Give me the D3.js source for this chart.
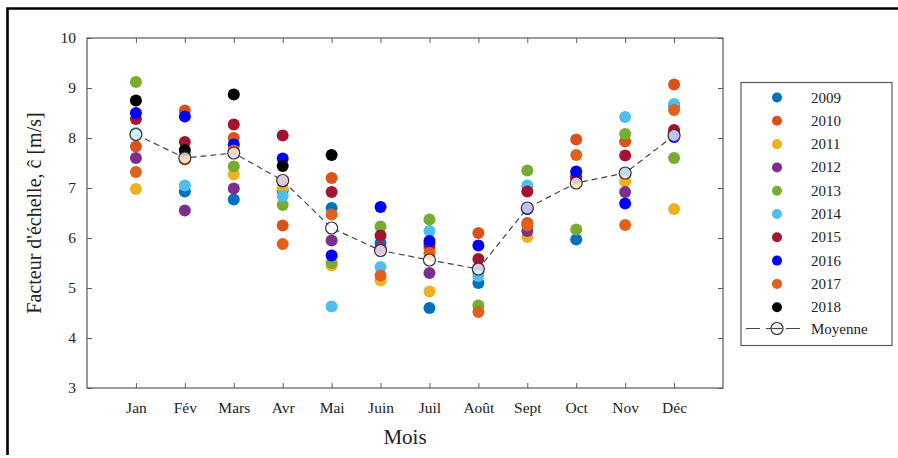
<!DOCTYPE html>
<html><head><meta charset="utf-8">
<script src="https://cdn.jsdelivr.net/npm/d3@7"></script>
<style>
body{margin:0;background:#fff;}
svg text{font-family:"Liberation Serif","DejaVu Serif",serif !important;fill:#222;}
</style></head>
<body>
<svg id="chart" width="898" height="458"></svg>
<script>
const months = ["Jan","Fév","Mars","Avr","Mai","Juin","Juil","Août","Sept","Oct","Nov","Déc"];
const years = ["2009","2010","2011","2012","2013","2014","2015","2016","2017","2018"];
const colors = ["#0072BD","#D95319","#EDB120","#7E2F8E","#77AC30","#4DBEEE","#A2142F","#0000FF","#E0601C","#000000"];
const v2009 = [8.07,6.93,6.77,6.95,6.60,5.90,4.60,5.10,6.60,5.97,7.30,8.65];
const v2010 = [7.83,8.55,8.00,6.25,7.20,5.75,5.80,6.10,6.30,7.97,7.93,9.07];
const v2011 = [6.98,7.65,7.27,7.00,5.45,5.15,4.93,5.30,6.02,7.10,7.13,6.58];
const v2012 = [7.60,6.55,6.99,7.13,5.95,5.80,5.30,5.40,6.14,7.23,6.92,8.10];
const v2013 = [9.12,7.70,7.43,6.66,5.50,6.23,6.37,4.65,7.35,6.17,8.08,7.60];
const v2014 = [8.10,7.05,7.70,6.84,4.63,5.42,6.14,5.24,7.05,7.30,8.42,8.68];
const v2015 = [8.38,7.92,8.27,8.05,6.92,6.05,5.87,5.58,6.93,7.20,7.65,8.16];
const v2016 = [8.50,8.43,7.87,7.59,5.65,6.62,5.94,5.85,6.58,7.33,6.69,8.02];
const v2017 = [7.32,7.57,7.75,5.88,6.47,5.25,5.70,4.52,6.25,7.66,6.26,8.56];
const v2018 = [8.75,7.76,8.87,7.44,7.66,null,null,null,null,null,null,null];
const meanValues = [8.07,7.60,7.70,7.15,6.20,5.75,5.56,5.38,6.60,7.10,7.30,8.05];
const yTicks = [3,4,5,6,7,8,9,10];
const series = [v2009,v2010,v2011,v2012,v2013,v2014,v2015,v2016,v2017,v2018];

const FONT = "'Liberation Serif','DejaVu Serif',serif";
const svg = d3.select("#chart");
const L=87, R=723, T=38, B=388;
const x = d3.scaleLinear().domain([0,13]).range([L,R]);
const y = d3.scaleLinear().domain([3,10]).range([B,T]);
const axisColor = "#5a5a5a";

// outer frame (top & left visible)
svg.append("path").attr("d","M7.5,455 V8.5 H898").attr("fill","none").attr("stroke","#000").attr("stroke-width",2.6);

// axes
const gx = svg.append("g").attr("transform",`translate(0,${B})`)
  .call(d3.axisBottom(x).tickValues(d3.range(1,13)).tickFormat(d=>months[d-1]).tickSizeInner(-5).tickSizeOuter(0).tickPadding(14));
const gxt = svg.append("g").attr("transform",`translate(0,${T})`)
  .call(d3.axisTop(x).tickValues(d3.range(1,13)).tickFormat("").tickSizeInner(-5).tickSizeOuter(0));
const gy = svg.append("g").attr("transform",`translate(${L},0)`)
  .call(d3.axisLeft(y).tickValues(yTicks).tickFormat(d3.format("d")).tickSizeInner(-5).tickSizeOuter(0).tickPadding(11));
const gyr = svg.append("g").attr("transform",`translate(${R},0)`)
  .call(d3.axisRight(y).tickValues(yTicks).tickFormat("").tickSizeInner(-5).tickSizeOuter(0));
[gx,gxt,gy,gyr].forEach(g=>{
  g.attr("font-family",FONT);
  g.selectAll("path.domain").remove();
  g.selectAll("line").attr("stroke",axisColor);
  g.selectAll("text").attr("font-size",15.5).attr("fill","#222").style("font-family",FONT);
});
svg.append("rect").attr("x",L).attr("y",T).attr("width",R-L).attr("height",B-T)
  .attr("fill","none").attr("stroke",axisColor).attr("stroke-width",1.2);

// labels
svg.append("text").attr("x",(L+R)/2).attr("y",444).attr("text-anchor","middle").attr("font-size",21).style("font-family",FONT).text("Mois");
svg.append("text").attr("transform",`translate(41,${(T+B)/2}) rotate(-90)`).attr("text-anchor","middle").attr("font-size",20).style("font-family",FONT).text("Facteur d'échelle, ĉ [m/s]");

// points
series.forEach((vals,i)=>{
  svg.append("g").selectAll("circle").data(vals.map((v,m)=>({v,m})).filter(d=>d.v!==null))
    .join("circle").attr("cx",d=>x(d.m+1)).attr("cy",d=>y(d.v)).attr("r",6).attr("fill",colors[i]);
});

// mean line
const line = d3.line().x((d,i)=>x(i+1)).y(d=>y(d));
svg.append("path").datum(meanValues).attr("d",line).attr("fill","none").attr("stroke","#444")
  .attr("stroke-width",1.2).attr("stroke-dasharray","6,4");
svg.append("g").selectAll("circle").data(meanValues).join("circle")
  .attr("cx",(d,i)=>x(i+1)).attr("cy",d=>y(d)).attr("r",6)
  .attr("fill","rgba(255,255,255,0.75)").attr("stroke","#333").attr("stroke-width",1.2);

// legend
const lg = svg.append("g");
lg.append("rect").attr("x",741).attr("y",82.5).attr("width",151).attr("height",263)
  .attr("fill","#fff").attr("stroke",axisColor).attr("stroke-width",1.2);
years.forEach((yr,i)=>{
  const cy = 97.5 + i*23.3;
  lg.append("circle").attr("cx",777).attr("cy",cy).attr("r",5).attr("fill",colors[i]);
  lg.append("text").attr("x",811).attr("y",cy+5).attr("font-size",15).style("font-family",FONT).text(yr);
});
const my = 97.5 + 10*23.3 - 2;
lg.append("line").attr("x1",746).attr("x2",806).attr("y1",my).attr("y2",my)
  .attr("stroke","#444").attr("stroke-width",1.2).attr("stroke-dasharray","14,6");
lg.append("circle").attr("cx",777).attr("cy",my).attr("r",6).attr("fill","#fff").attr("stroke","#333").attr("stroke-width",1.2);
lg.append("line").attr("x1",772).attr("x2",782).attr("y1",my).attr("y2",my).attr("stroke","#444").attr("stroke-width",1.2);
lg.append("text").attr("x",811).attr("y",my+5).attr("font-size",15).style("font-family",FONT).text("Moyenne");
</script>
</body></html>
